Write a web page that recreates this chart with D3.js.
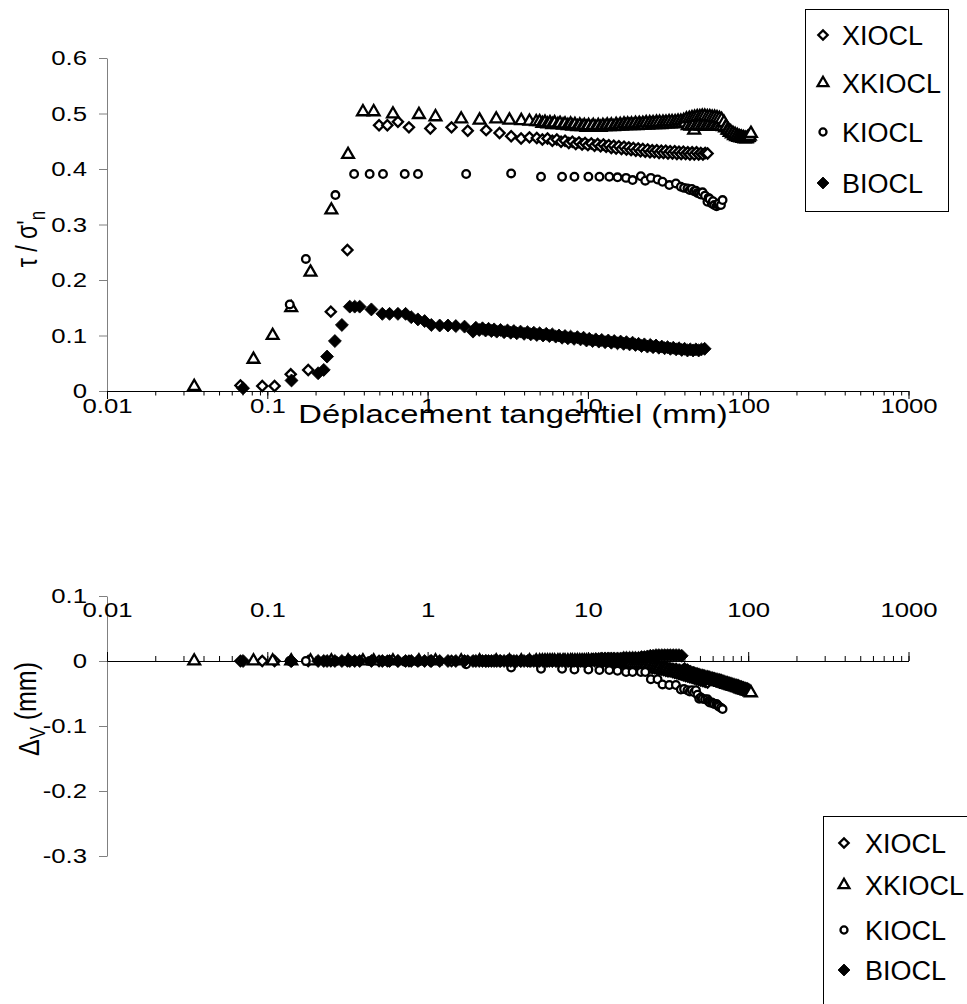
<!DOCTYPE html>
<html><head><meta charset="utf-8">
<script src="https://cdn.jsdelivr.net/npm/d3@7"></script>
<style>
body{margin:0;background:#fff}
svg{display:block}
text{font-family:"Liberation Sans",Arial,sans-serif;fill:#000}
</style>
</head><body>
<svg id="c" width="967" height="1004"></svg>
<script>
// ---------- data ----------
const seriesNames = ["XIOCL", "XKIOCL", "KIOCL", "BIOCL"];
const xTickValues = [0.01, 0.1, 1, 10, 100, 1000];
const xTickLabels = ["0.01", "0.1", "1", "10", "100", "1000"];
const tauTicks = [0, 0.1, 0.2, 0.3, 0.4, 0.5, 0.6];
const tauTickLabels = ["0", "0.1", "0.2", "0.3", "0.4", "0.5", "0.6"];
const dvTicks = [0.1, 0, -0.1, -0.2, -0.3];
const dvTickLabels = ["0.1", "0", "-0.1", "-0.2", "-0.3"];
const xTitle = "Déplacement tangentiel (mm)";

// each row: [déplacement tangentiel (mm), tau/sigma'n, delta v (mm)]
const xiocl = [
[0.068,0.010,0],[0.093,0.009,0],[0.111,0.009,0],[0.140,0.030,0],[0.180,0.038,0],
[0.249,0.143,0],[0.316,0.254,0],[0.498,0.479,0],[0.561,0.479,0],[0.653,0.485,0],
[0.765,0.475,0],[1.04,0.473,0],[1.41,0.475,0],[1.78,0.469,0],[2.32,0.470,0],
[2.81,0.465,0],[3.32,0.459,0],[3.83,0.455,0],[4.32,0.457,0],
[4.8,0.456,0],[5.2,0.453,0],[5.6,0.455,0],[6.0,0.451,0],[6.4,0.453,0],[6.8,0.449,0],
[7.2,0.451,0],[7.6,0.447,0],[8.0,0.449,0],[8.4,0.445,0],[8.8,0.448,0],[9.2,0.444,0],
[9.6,0.447,0],[10.0,0.443,0],[10.5,0.446,0],[11.0,0.442,0],[11.5,0.445,0],[12.0,0.441,0],
[12.5,0.444,-0.001],[13.0,0.440,-0.001],[13.5,0.443,-0.002],[14.0,0.438,-0.002],[14.5,0.442,-0.002],
[15.0,0.437,-0.003],[15.6,0.441,-0.003],[16.2,0.436,-0.004],[16.8,0.440,-0.004],[17.4,0.435,-0.005],
[18.0,0.439,-0.005],[18.6,0.434,-0.006],[19.2,0.438,-0.006],[19.9,0.433,-0.007],[20.6,0.437,-0.007],
[21.3,0.432,-0.008],[22.0,0.436,-0.008],[22.8,0.431,-0.009],[23.6,0.435,-0.009],[24.4,0.430,-0.010],
[25.2,0.434,-0.011],[26.0,0.430,-0.011],[26.9,0.434,-0.012],[27.8,0.429,-0.013],[28.7,0.433,-0.013],
[29.6,0.429,-0.014],[30.6,0.433,-0.015],[31.6,0.428,-0.016],[32.6,0.432,-0.016],[33.7,0.428,-0.017],
[34.8,0.432,-0.018],[35.9,0.427,-0.019],[37.0,0.431,-0.020],[38.2,0.427,-0.021],[39.4,0.431,-0.022],
[40.7,0.427,-0.023],[42.0,0.430,-0.024],[43.3,0.426,-0.025],[44.7,0.430,-0.026],[46.1,0.426,-0.027],
[47.6,0.430,-0.028],[49.1,0.426,-0.029],[50.6,0.429,-0.030],[52.2,0.426,-0.031],[53.9,0.429,-0.032],
[55.8,0.428,-0.033]
];
const xkiocl = [
[0.035,0.008,0],[0.082,0.057,0],[0.108,0.100,0],[0.141,0.150,0],[0.186,0.214,0],
[0.251,0.326,0],[0.319,0.426,0],[0.395,0.503,0],[0.461,0.503,0],[0.608,0.499,0],
[0.883,0.498,0],[1.12,0.494,0],[1.62,0.490,0],[2.11,0.488,0],[2.68,0.490,0],
[3.24,0.488,0],[3.84,0.487,0],[4.32,0.486,0],[4.76,0.485,0],
[5.0,0.485,0],[5.2,0.482,0],[5.4,0.484,0],[5.6,0.481,0],[5.8,0.483,0],[6.0,0.480,0],
[6.2,0.483,0],[6.5,0.480,0],[6.7,0.482,0],[7.0,0.479,0],[7.2,0.481,0],[7.5,0.478,0],
[7.8,0.481,0],[8.0,0.477,0],[8.3,0.480,0],[8.6,0.476,0],[8.9,0.479,0],[9.2,0.476,0],
[9.5,0.478,0],[9.8,0.475,0],[10.1,0.478,0],[10.5,0.475,0],[10.8,0.478,0],[11.2,0.475,0],
[11.6,0.478,0],[12.0,0.475,0],[12.4,0.478,0],[12.8,0.476,0],[13.2,0.479,0],[13.6,0.476,0],
[14.0,0.479,0],[14.5,0.476,0],[15.0,0.480,-0.001],[15.4,0.477,-0.001],[15.9,0.480,-0.001],
[16.3,0.477,-0.002],[16.8,0.481,-0.002],[17.2,0.478,-0.002],[17.7,0.481,-0.003],[18.2,0.478,-0.003],
[18.7,0.481,-0.003],[19.2,0.478,-0.004],[19.8,0.482,-0.004],[20.3,0.478,-0.005],[20.9,0.482,-0.005],
[21.4,0.479,-0.006],[22.0,0.482,-0.006],[22.5,0.479,-0.007],[23.1,0.483,-0.007],[23.7,0.479,-0.008],
[24.3,0.483,-0.008],[24.9,0.480,-0.009],[25.5,0.483,-0.009],[26.1,0.480,-0.010],[26.8,0.484,-0.010],
[27.4,0.480,-0.011],[28.0,0.484,-0.011],[28.7,0.480,-0.012],[29.4,0.484,-0.012],[30.0,0.481,-0.013],
[30.7,0.484,-0.013],[31.4,0.481,-0.014],[32.1,0.485,-0.014],[32.8,0.481,-0.015],[33.5,0.485,-0.015],
[34.2,0.481,-0.016],[35.0,0.485,-0.016],[35.7,0.482,-0.016],[36.5,0.486,-0.017],[37.2,0.482,-0.017],
[38.0,0.486,-0.018],[38.8,0.482,-0.018],[39.6,0.487,-0.019],[40.4,0.483,-0.019],[41.2,0.490,-0.020],
[42.0,0.478,-0.020],[42.9,0.491,-0.021],[43.7,0.477,-0.021],[44.6,0.492,-0.022],[45.4,0.478,-0.022],
[46.0,0.470,-0.022],[46.3,0.493,-0.022],[47.2,0.477,-0.023],[48.1,0.494,-0.023],[49.0,0.478,-0.024],
[49.9,0.494,-0.024],[50.8,0.477,-0.025],[51.7,0.495,-0.025],[52.7,0.478,-0.026],[53.6,0.495,-0.026],
[54.6,0.477,-0.027],[55.6,0.494,-0.027],[56.6,0.478,-0.028],[57.6,0.494,-0.028],[58.6,0.477,-0.029],
[59.6,0.493,-0.029],[60.7,0.478,-0.030],[61.7,0.493,-0.030],[62.8,0.477,-0.031],[63.9,0.492,-0.031],
[65.0,0.478,-0.032],[66.1,0.491,-0.032],[67.2,0.477,-0.033],[68.3,0.489,-0.033],[69.5,0.476,-0.034],
[70.6,0.484,-0.034],[71.8,0.474,-0.035],[73.0,0.476,-0.036],[74.2,0.470,-0.036],[75.4,0.470,-0.037],
[76.6,0.466,-0.037],[77.8,0.467,-0.038],[79.1,0.463,-0.038],[80.3,0.464,-0.039],[81.6,0.460,-0.039],
[82.9,0.462,-0.040],[84.2,0.458,-0.040],[85.5,0.460,-0.041],[86.8,0.457,-0.041],[88.1,0.458,-0.042],
[89.5,0.456,-0.043],[90.8,0.457,-0.043],[92.2,0.455,-0.044],[93.6,0.456,-0.044],[95.0,0.454,-0.045],
[96.4,0.455,-0.045],[97.8,0.454,-0.046],[99.2,0.456,-0.046],[100.7,0.457,-0.047],[102.3,0.459,-0.048],
[104,0.464,-0.049]
];
const kiocl = [
[0.138,0.156,0],[0.174,0.238,0],[0.266,0.353,0],[0.348,0.391,0],[0.435,0.391,0],
[0.527,0.391,0],[0.720,0.391,-0.001],[0.871,0.391,-0.001],[1.74,0.391,-0.005],[3.32,0.392,-0.010],
[5.1,0.386,-0.012],[6.9,0.386,-0.012],[8.24,0.386,-0.013],[10.07,0.386,-0.013],[11.8,0.386,-0.014],
[13.6,0.386,-0.014],[15.3,0.385,-0.015],[17.3,0.384,-0.017],[19.0,0.380,-0.017],[21.4,0.387,-0.017],
[22.8,0.379,-0.017],[24.7,0.384,-0.028],[27.2,0.381,-0.028],[29.2,0.377,-0.036],[32.2,0.371,-0.037],
[35.4,0.374,-0.037],[38.0,0.368,-0.044],[39.8,0.366,-0.043],[41.8,0.365,-0.045],[43.2,0.362,-0.047],
[44.5,0.364,-0.045],[46.0,0.360,-0.048],[47.2,0.361,-0.045],[48.3,0.357,-0.052],[49.5,0.356,-0.058],
[50.7,0.354,-0.056],[51.9,0.358,-0.058],[53.8,0.352,-0.059],[55.7,0.341,-0.059],[56.6,0.348,-0.062],
[57.5,0.346,-0.064],[59.3,0.338,-0.064],[60.3,0.342,-0.065],[61.4,0.335,-0.066],[63.5,0.333,-0.066],
[64.5,0.336,-0.068],[65.5,0.338,-0.070],[67.6,0.335,-0.072],[69.2,0.344,-0.074]
];
const biocl = [
[0.0706,0.005,0],[0.1416,0.019,0],[0.2075,0.032,0],[0.225,0.038,0],[0.236,0.062,0],
[0.264,0.090,0],[0.292,0.119,0],[0.327,0.152,0],[0.351,0.152,0],[0.377,0.152,0],
[0.446,0.147,0],[0.522,0.139,0],[0.579,0.139,0],[0.653,0.139,0],[0.729,0.139,0],
[0.791,0.133,0],[0.870,0.129,0],[0.958,0.126,0],[1.055,0.119,0],[1.19,0.118,0],
[1.34,0.118,0],[1.50,0.117,0],[1.70,0.116,0],[1.92,0.107,0],
[2.0,0.114,0],[2.1,0.110,0],[2.2,0.113,0],[2.3,0.109,0],[2.4,0.112,0],[2.5,0.108,0],
[2.6,0.111,0],[2.7,0.107,0],[2.85,0.110,0],[3.0,0.106,0],[3.15,0.109,0],[3.3,0.105,0],
[3.45,0.108,0],[3.6,0.104,0],[3.8,0.107,0],[4.0,0.103,0],[4.2,0.106,0],[4.4,0.102,0],
[4.6,0.105,0],[4.8,0.101,0],[5.0,0.104,0],[5.25,0.100,0],[5.5,0.103,0],[5.75,0.099,0],
[6.0,0.102,0],[6.3,0.098,0],[6.6,0.100,0],[6.9,0.096,0],[7.2,0.099,0],[7.5,0.095,0],
[7.8,0.098,0],[8.2,0.094,0],[8.6,0.097,0],[9.0,0.093,0],[9.4,0.096,0],[9.8,0.091,0],
[10.2,0.094,0.001],[10.7,0.090,0.002],[11.2,0.093,0.003],[11.7,0.089,0.003],[12.2,0.092,0.004],
[12.8,0.088,0.004],[13.4,0.091,0.004],[14.0,0.087,0.004],[14.6,0.090,0.004],[15.3,0.086,0.004],
[16.0,0.089,0.004],[16.7,0.085,0.005],[17.4,0.088,0.005],[18.2,0.084,0.005],[19.0,0.087,0.005],
[19.8,0.083,0.005],[20.7,0.085,0.005],[21.6,0.081,0.006],[22.5,0.084,0.006],[23.5,0.080,0.007],
[24.5,0.083,0.008],[25.5,0.079,0.008],[26.6,0.082,0.009],[27.7,0.078,0.009],[28.9,0.080,0.009],
[30.1,0.077,0.009],[31.4,0.079,0.009],[32.7,0.076,0.009],[34.1,0.078,0.009],[35.5,0.075,0.009],
[37.0,0.077,0.009],[38.5,0.074,0.008],[40.1,0.076,-0.012],[41.8,0.073,-0.014],[43.5,0.075,-0.016],
[45.3,0.073,-0.018],[47.2,0.075,-0.020],[49.1,0.073,-0.022],[51.1,0.075,-0.024],[53.5,0.076,-0.026]
];
const seriesData = [xiocl, xkiocl, kiocl, biocl];

// ---------- drawing ----------
const svg = d3.select("#c");
const SX = 1.32;          // horizontal stretch of axis texts
const tickFont = 19.5;

const x = d3.scaleLog().domain([0.01, 1000]).range([107, 908.5]);
const yT = d3.scaleLinear().domain([0, 0.6]).range([391, 58]);
const yB = d3.scaleLinear().domain([-0.3, 0.1]).range([856, 596]);

function styleAxis(g, color) {
  g.attr("font-family", null).attr("font-size", null);
  g.select(".domain").attr("stroke", color).attr("stroke-width", 1);
  g.selectAll(".tick line").attr("stroke", color).attr("stroke-width", 1);
}

// top y axis
const gyT = svg.append("g").attr("transform", "translate(107,0)")
  .call(d3.axisLeft(yT).tickValues(tauTicks).tickSize(8).tickSizeOuter(0)
    .tickFormat((d, i) => tauTickLabels[i]));
styleAxis(gyT, "#808080");
gyT.selectAll(".tick text").attr("x", -20 / SX).attr("dy", "0.35em")
  .attr("transform", `scale(${SX},1)`).attr("font-size", tickFont).attr("fill", "#000");

// top x axis: minor + major
const gxTm = svg.append("g").attr("transform", "translate(0,391)")
  .call(d3.axisBottom(x).tickValues(x.ticks()).tickSize(4.5).tickSizeOuter(0).tickFormat(""));
styleAxis(gxTm, "#000");
const gxT = svg.append("g").attr("transform", "translate(0,391)")
  .call(d3.axisBottom(x).tickValues(xTickValues).tickSize(8).tickSizeOuter(0)
    .tickFormat((d, i) => xTickLabels[i]));
styleAxis(gxT, "#000");
gxT.selectAll(".tick text").attr("y", 22).attr("dy", 0)
  .attr("transform", `scale(${SX},1)`).attr("font-size", tickFont).attr("fill", "#000");

// bottom y axis
const gyB = svg.append("g").attr("transform", "translate(107,0)")
  .call(d3.axisLeft(yB).tickValues(dvTicks).tickSize(8).tickSizeOuter(0)
    .tickFormat((d, i) => dvTickLabels[i]));
styleAxis(gyB, "#808080");
gyB.selectAll(".tick text").attr("x", -20 / SX).attr("dy", "0.35em")
  .attr("transform", `scale(${SX},1)`).attr("font-size", tickFont).attr("fill", "#000");

// bottom x axis (crossing at 0, labels on top)
const y0 = yB(0);
const gxBm = svg.append("g").attr("transform", `translate(0,${y0})`)
  .call(d3.axisTop(x).tickValues(x.ticks()).tickSize(5).tickSizeOuter(0).tickFormat(""));
styleAxis(gxBm, "#000");
const gxB = svg.append("g").attr("transform", `translate(0,${y0})`)
  .call(d3.axisTop(x).tickValues(xTickValues).tickSize(9).tickSizeOuter(0)
    .tickFormat((d, i) => xTickLabels[i]));
styleAxis(gxB, "#000");
gxB.selectAll(".tick text").attr("y", 617 - y0).attr("dy", 0)
  .attr("transform", `scale(${SX},1)`).attr("font-size", tickFont).attr("fill", "#000");

// markers
const markers = [
  { type: d3.symbolSquare, size: 52, rot: 45, fill: "#fff", sw: 2.3 },
  { type: d3.symbolTriangle, size: 60, rot: 0, fill: "#fff", sw: 2.3 },
  { type: d3.symbolCircle, size: 46, rot: 0, fill: "#fff", sw: 2.3 },
  { type: d3.symbolSquare, size: 84, rot: 45, fill: "#000", sw: 0.8 }
];

function drawSeries(yScale, col) {
  const g = svg.append("g");
  seriesData.forEach((data, si) => {
    const m = markers[si];
    g.append("g").selectAll("path").data(data).join("path")
      .attr("d", d3.symbol().type(m.type).size(m.size))
      .attr("transform", d => `translate(${x(d[0])},${yScale(d[col])}) rotate(${m.rot})`)
      .attr("fill", m.fill).attr("stroke", "#000").attr("stroke-width", m.sw);
  });
}
drawSeries(yT, 1);
drawSeries(yB, 2);

// titles
svg.append("text").attr("text-anchor", "middle")
  .attr("transform", `translate(513,423) scale(1.31,1)`)
  .attr("font-size", 25).text(xTitle);

const tY = svg.append("text").attr("text-anchor", "middle")
  .attr("transform", `translate(37,239) rotate(-90) scale(1,1.3)`)
  .attr("font-size", 23);
tY.append("tspan").text("τ / σ'");
tY.append("tspan").attr("font-size", 17).attr("dy", "0.35em").text("n");

const bY = svg.append("text").attr("text-anchor", "middle")
  .attr("transform", `translate(39,709) rotate(-90) scale(1,1.2)`)
  .attr("font-size", 25);
bY.append("tspan").text("Δ");
bY.append("tspan").attr("font-size", 18).attr("dy", "0.3em").text("V");
bY.append("tspan").attr("dy", "-0.3em").text(" (mm)");

// legends
const legendMarkerScale = 0.85;
function legend(box, mx, tx, ys) {
  const g = svg.append("g");
  g.append("rect").attr("x", box[0]).attr("y", box[1]).attr("width", box[2]).attr("height", box[3])
    .attr("fill", "#fff").attr("stroke", "#000").attr("stroke-width", 1);
  seriesNames.forEach((name, i) => {
    const m = markers[i];
    g.append("path").attr("d", d3.symbol().type(m.type).size(m.size * legendMarkerScale)())
      .attr("transform", `translate(${mx},${ys[i]}) rotate(${m.rot})`)
      .attr("fill", m.fill).attr("stroke", "#000").attr("stroke-width", m.sw);
    g.append("text").attr("x", tx).attr("y", ys[i] + 9.7).attr("font-size", 27).text(name);
  });
}
legend([805.5, 9.5, 143, 202], 823, 842, [35, 83, 132, 183]);
legend([823.5, 816.5, 200, 250], 844, 865, [843, 885, 930, 970]);
</script>
</body></html>
